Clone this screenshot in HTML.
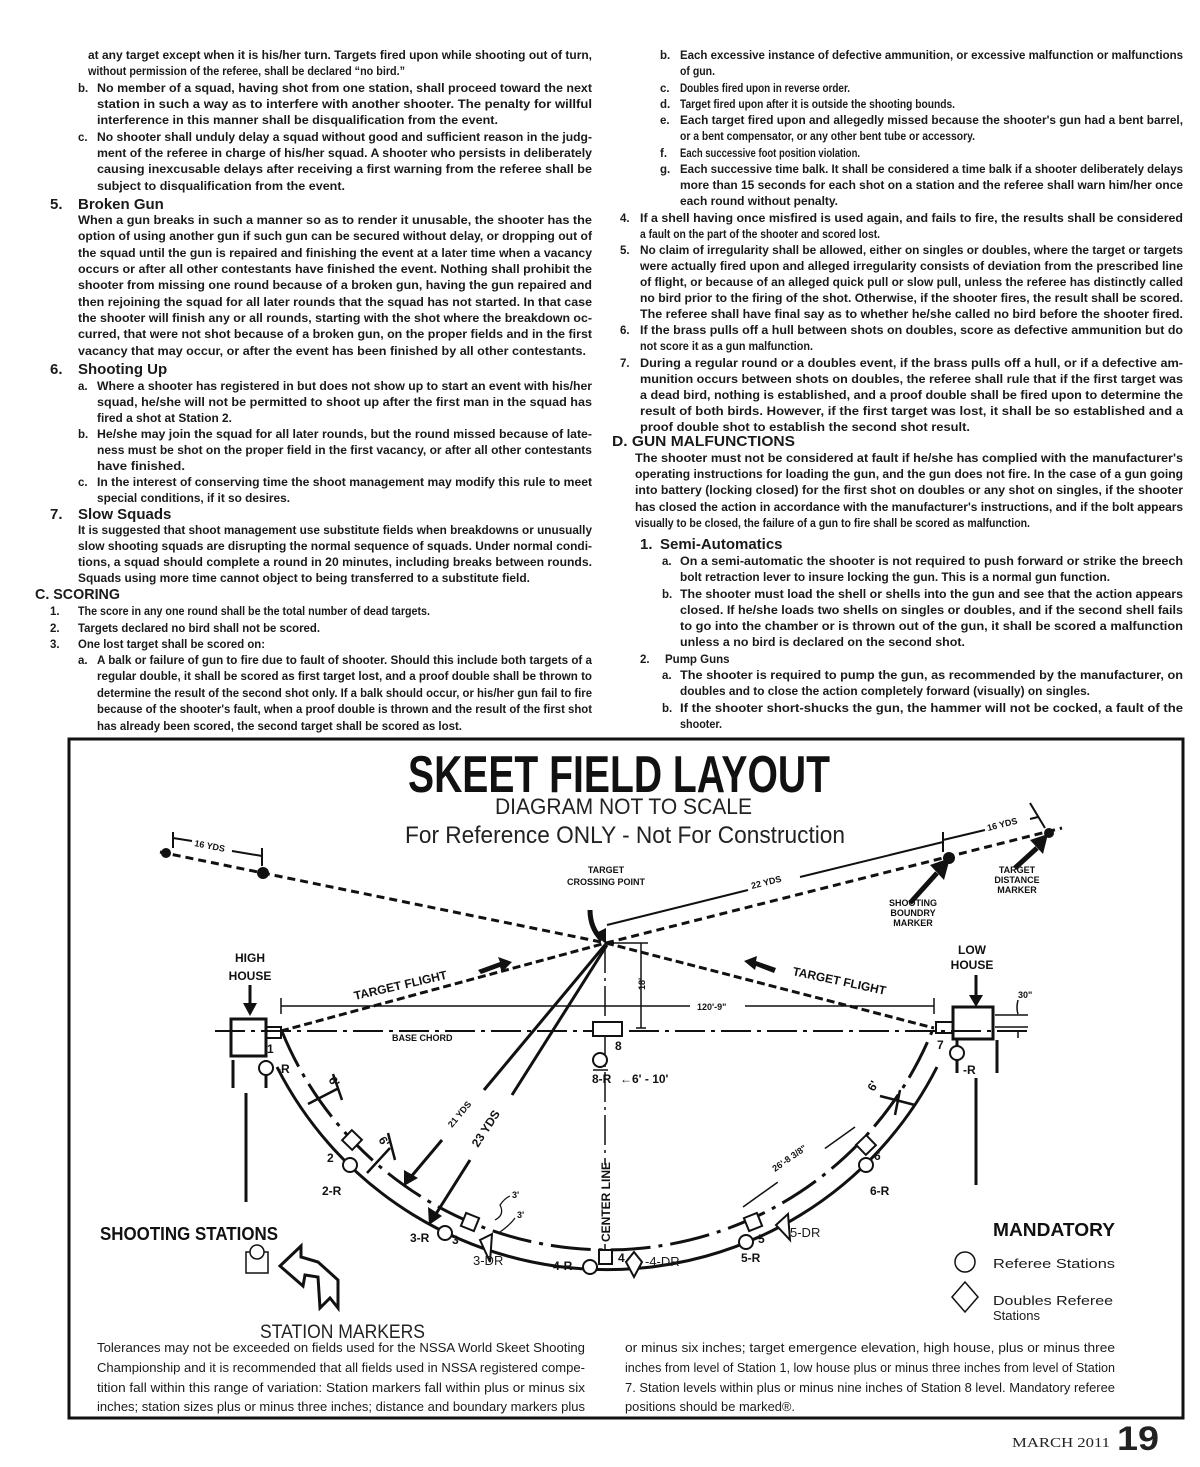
<!DOCTYPE html>
<html><head><meta charset="utf-8"><style>
html,body{margin:0;padding:0;background:#fff;}
svg{display:block}
.t{font-family:"Liberation Sans",sans-serif;font-weight:bold;font-size:11.5px;fill:#1a1a1a}
.h{font-family:"Liberation Sans",sans-serif;font-weight:bold;font-size:15px;fill:#1a1a1a}
.r{font-family:"Liberation Sans",sans-serif;font-size:13px;fill:#1a1a1a}
.s{font-family:"Liberation Sans",sans-serif;font-weight:bold;font-size:9px;fill:#111}
.d{font-family:"Liberation Sans",sans-serif;font-weight:bold;font-size:12px;fill:#111}
.ln{stroke:#111;fill:none}
</style></head><body>
<svg width="1200" height="1467" viewBox="0 0 1200 1467" xmlns="http://www.w3.org/2000/svg">
<rect width="1200" height="1467" fill="#fff"/>
<g class="t">
<text x="88" y="59" textLength="504" lengthAdjust="spacingAndGlyphs">at any target  except when it is his/her turn. Targets fired upon while shooting out of turn,</text>
<text x="88" y="75" textLength="317" lengthAdjust="spacingAndGlyphs">without permission of the referee, shall be declared “no bird.”</text>
<text x="78" y="92">b.</text>
<text x="97" y="92" textLength="495" lengthAdjust="spacingAndGlyphs">No member of a squad, having shot from one station, shall proceed toward the next</text>
<text x="97" y="108" textLength="495" lengthAdjust="spacingAndGlyphs">station in such a way as to interfere with another shooter. The penalty for willful</text>
<text x="97" y="124" textLength="401" lengthAdjust="spacingAndGlyphs">interference in this manner shall be disqualification from the event.</text>
<text x="78" y="141">c.</text>
<text x="97" y="141" textLength="495" lengthAdjust="spacingAndGlyphs">No shooter shall unduly delay a squad without good and sufficient reason in the judg-</text>
<text x="97" y="157" textLength="495" lengthAdjust="spacingAndGlyphs">ment of the referee in charge of his/her squad. A shooter who persists in deliberately</text>
<text x="97" y="173" textLength="495" lengthAdjust="spacingAndGlyphs">causing inexcusable delays after receiving a first warning from the referee shall be</text>
<text x="97" y="190" textLength="248" lengthAdjust="spacingAndGlyphs">subject to disqualification from the event.</text>
<text x="78" y="224" textLength="514" lengthAdjust="spacingAndGlyphs">When a gun breaks in such a manner so as to render it unusable, the shooter has the</text>
<text x="78" y="240" textLength="514" lengthAdjust="spacingAndGlyphs">option of using another gun if such gun can be secured without delay, or dropping out of</text>
<text x="78" y="257" textLength="514" lengthAdjust="spacingAndGlyphs">the squad until the gun is repaired and finishing the event at a later time when a vacancy</text>
<text x="78" y="273" textLength="514" lengthAdjust="spacingAndGlyphs">occurs or after all other contestants have finished the event. Nothing shall prohibit the</text>
<text x="78" y="289" textLength="514" lengthAdjust="spacingAndGlyphs">shooter from missing one round because of a broken gun, having the gun repaired and</text>
<text x="78" y="306" textLength="514" lengthAdjust="spacingAndGlyphs">then rejoining the squad for all later rounds that the squad has not started. In that case</text>
<text x="78" y="322" textLength="514" lengthAdjust="spacingAndGlyphs">the shooter will finish any or all rounds, starting with the shot where the breakdown oc-</text>
<text x="78" y="338" textLength="514" lengthAdjust="spacingAndGlyphs">curred, that were not shot because of a broken gun, on the proper fields and in the first</text>
<text x="78" y="355" textLength="508" lengthAdjust="spacingAndGlyphs">vacancy that  may occur, or after the event has been finished by all other contestants.</text>
<text x="78" y="390">a.</text>
<text x="97" y="390" textLength="495" lengthAdjust="spacingAndGlyphs">Where a shooter has registered in but does not show up to start an event with his/her</text>
<text x="97" y="406" textLength="495" lengthAdjust="spacingAndGlyphs">squad, he/she will not be permitted to shoot up after the first man in the squad has</text>
<text x="97" y="422" textLength="135" lengthAdjust="spacingAndGlyphs">fired a shot at Station 2.</text>
<text x="78" y="438">b.</text>
<text x="97" y="438" textLength="495" lengthAdjust="spacingAndGlyphs">He/she may join the squad for all later rounds, but the round missed because of late-</text>
<text x="97" y="454" textLength="495" lengthAdjust="spacingAndGlyphs">ness must be shot on the proper field in the first vacancy, or after all other contestants</text>
<text x="97" y="470" textLength="88" lengthAdjust="spacingAndGlyphs">have finished.</text>
<text x="78" y="486">c.</text>
<text x="97" y="486" textLength="495" lengthAdjust="spacingAndGlyphs">In the interest of conserving time the shoot management may modify this rule to meet</text>
<text x="97" y="502" textLength="193" lengthAdjust="spacingAndGlyphs">special conditions, if it so desires.</text>
<text x="78" y="534" textLength="514" lengthAdjust="spacingAndGlyphs">It is suggested that shoot management use substitute fields when breakdowns or unusually</text>
<text x="78" y="550" textLength="514" lengthAdjust="spacingAndGlyphs">slow shooting squads are disrupting the normal sequence of squads.  Under normal condi-</text>
<text x="78" y="566" textLength="514" lengthAdjust="spacingAndGlyphs">tions, a squad should complete a round in 20 minutes, including breaks between rounds.</text>
<text x="78" y="582" textLength="452" lengthAdjust="spacingAndGlyphs">Squads using more time cannot object to being transferred to a substitute field.</text>
<text x="50" y="615">1.</text><text x="78" y="615" textLength="352" lengthAdjust="spacingAndGlyphs">The score in any one round shall be the total number of dead targets.</text>
<text x="50" y="632">2.</text><text x="78" y="632" textLength="242" lengthAdjust="spacingAndGlyphs">Targets declared no bird shall not be scored.</text>
<text x="50" y="648">3.</text><text x="78" y="648" textLength="187" lengthAdjust="spacingAndGlyphs">One lost target shall be scored on:</text>
<text x="78" y="664">a.</text>
<text x="97" y="664" textLength="495" lengthAdjust="spacingAndGlyphs">A balk or failure of gun to fire due to fault of shooter.  Should this include both targets of a</text>
<text x="97" y="680" textLength="495" lengthAdjust="spacingAndGlyphs">regular double, it shall be scored as first target lost, and a proof double shall be thrown to</text>
<text x="97" y="697" textLength="495" lengthAdjust="spacingAndGlyphs">determine the result of the second shot only. If a balk should occur, or his/her gun fail to fire</text>
<text x="97" y="713" textLength="495" lengthAdjust="spacingAndGlyphs">because of the shooter's fault, when a proof double is thrown and the result of the first shot</text>
<text x="97" y="730" textLength="365" lengthAdjust="spacingAndGlyphs">has already been scored, the second target shall be scored as lost.</text>

<text x="660" y="59">b.</text>
<text x="680" y="59" textLength="503" lengthAdjust="spacingAndGlyphs">Each excessive instance of defective ammunition, or excessive malfunction or malfunctions</text>
<text x="680" y="75" textLength="35" lengthAdjust="spacingAndGlyphs">of gun.</text>
<text x="660" y="92">c.</text><text x="680" y="92" textLength="170" lengthAdjust="spacingAndGlyphs">Doubles fired upon in reverse order.</text>
<text x="660" y="108">d.</text><text x="680" y="108" textLength="275" lengthAdjust="spacingAndGlyphs">Target fired upon after it is outside the shooting bounds.</text>
<text x="660" y="124">e.</text>
<text x="680" y="124" textLength="503" lengthAdjust="spacingAndGlyphs">Each target fired upon and allegedly missed because the shooter's gun had a bent barrel,</text>
<text x="680" y="140" textLength="295" lengthAdjust="spacingAndGlyphs">or a bent compensator, or any other bent tube or accessory.</text>
<text x="660" y="157">f.</text><text x="680" y="157" textLength="180" lengthAdjust="spacingAndGlyphs">Each successive foot position violation.</text>
<text x="660" y="173">g.</text>
<text x="680" y="173" textLength="503" lengthAdjust="spacingAndGlyphs">Each successive time balk. It shall be considered a time balk if a shooter deliberately delays</text>
<text x="680" y="189" textLength="503" lengthAdjust="spacingAndGlyphs">more than 15 seconds for each shot on a station and the referee shall warn him/her once</text>
<text x="680" y="205" textLength="158" lengthAdjust="spacingAndGlyphs">each round without penalty.</text>
<text x="620" y="222">4.</text>
<text x="640" y="222" textLength="543" lengthAdjust="spacingAndGlyphs">If a shell having once misfired is used again, and fails to fire, the results shall be considered</text>
<text x="640" y="238" textLength="240" lengthAdjust="spacingAndGlyphs">a fault on the part of the shooter and scored lost.</text>
<text x="620" y="254">5.</text>
<text x="640" y="254" textLength="543" lengthAdjust="spacingAndGlyphs">No claim of irregularity shall be allowed, either on singles or doubles, where the target or targets</text>
<text x="640" y="270" textLength="543" lengthAdjust="spacingAndGlyphs">were actually fired upon and alleged irregularity consists of deviation from the prescribed line</text>
<text x="640" y="286" textLength="543" lengthAdjust="spacingAndGlyphs">of flight, or because of an alleged quick pull or slow pull, unless the referee has distinctly called</text>
<text x="640" y="302" textLength="543" lengthAdjust="spacingAndGlyphs">no bird prior to the firing of the shot. Otherwise, if the shooter fires, the result shall be scored.</text>
<text x="640" y="318" textLength="543" lengthAdjust="spacingAndGlyphs">The referee shall have final say as to whether he/she called no bird before the shooter fired.</text>
<text x="620" y="334">6.</text>
<text x="640" y="334" textLength="543" lengthAdjust="spacingAndGlyphs">If the brass pulls off a hull between shots on doubles, score as defective ammunition but do</text>
<text x="640" y="350" textLength="173" lengthAdjust="spacingAndGlyphs">not score it as a gun malfunction.</text>
<text x="620" y="367">7.</text>
<text x="640" y="367" textLength="543" lengthAdjust="spacingAndGlyphs">During a regular round or a doubles event, if the brass pulls off a hull, or if a defective am-</text>
<text x="640" y="383" textLength="543" lengthAdjust="spacingAndGlyphs">munition occurs between shots on doubles, the referee shall rule that if the first target was</text>
<text x="640" y="399" textLength="543" lengthAdjust="spacingAndGlyphs">a dead bird, nothing is established, and a proof double shall be fired upon to determine the</text>
<text x="640" y="415" textLength="543" lengthAdjust="spacingAndGlyphs">result of both birds.  However, if the first target was lost, it shall be so established and a</text>
<text x="640" y="431" textLength="330" lengthAdjust="spacingAndGlyphs">proof double shot to establish the second shot result.</text>
<text x="635" y="462" textLength="548" lengthAdjust="spacingAndGlyphs">The shooter must not be considered at fault if he/she has complied with the manufacturer's</text>
<text x="635" y="478" textLength="548" lengthAdjust="spacingAndGlyphs">operating instructions for loading the gun, and the gun does not fire. In the case of a gun going</text>
<text x="635" y="494" textLength="548" lengthAdjust="spacingAndGlyphs">into battery (locking closed) for the first shot on doubles or any shot on singles, if the shooter</text>
<text x="635" y="511" textLength="548" lengthAdjust="spacingAndGlyphs">has closed the action in accordance with the manufacturer's instructions, and if the bolt appears</text>
<text x="635" y="527" textLength="395" lengthAdjust="spacingAndGlyphs">visually to be closed, the failure of a gun to fire shall be scored as malfunction.</text>
<text x="662" y="565">a.</text>
<text x="680" y="565" textLength="503" lengthAdjust="spacingAndGlyphs">On a semi-automatic the shooter is not required to push forward or strike the breech</text>
<text x="680" y="581" textLength="430" lengthAdjust="spacingAndGlyphs">bolt retraction lever to insure locking the gun. This is a normal gun function.</text>
<text x="662" y="598">b.</text>
<text x="680" y="598" textLength="503" lengthAdjust="spacingAndGlyphs">The shooter must load the shell or shells into the gun and see that the action appears</text>
<text x="680" y="614" textLength="503" lengthAdjust="spacingAndGlyphs">closed.  If he/she loads two shells on singles or doubles, and if the second shell fails</text>
<text x="680" y="630" textLength="503" lengthAdjust="spacingAndGlyphs">to go into the chamber or is thrown out of the gun, it shall be scored a malfunction</text>
<text x="680" y="646" textLength="285" lengthAdjust="spacingAndGlyphs">unless a no bird is declared on the second shot.</text>
<text x="640" y="663">2.</text><text x="665" y="663">Pump Guns</text>
<text x="662" y="679">a.</text>
<text x="680" y="679" textLength="503" lengthAdjust="spacingAndGlyphs">The shooter is required to pump the gun, as recommended by the manufacturer, on</text>
<text x="680" y="695" textLength="410" lengthAdjust="spacingAndGlyphs">doubles and to close the action completely forward (visually) on singles.</text>
<text x="662" y="712">b.</text>
<text x="680" y="712" textLength="503" lengthAdjust="spacingAndGlyphs">If the shooter short-shucks the gun, the hammer will not be cocked, a fault of the</text>
<text x="680" y="728" textLength="42" lengthAdjust="spacingAndGlyphs">shooter.</text>
</g>
<g class="h">
<text x="50" y="209">5.</text><text x="78" y="209">Broken Gun</text>
<text x="50" y="374">6.</text><text x="78" y="374">Shooting Up</text>
<text x="50" y="519">7.</text><text x="78" y="519">Slow Squads</text>
<text x="35" y="599" textLength="85" lengthAdjust="spacingAndGlyphs">C. SCORING</text>
<text x="612" y="446" textLength="183" lengthAdjust="spacingAndGlyphs">D. GUN MALFUNCTIONS</text>
<text x="640" y="549">1.</text><text x="660" y="549">Semi-Automatics</text>
</g>

<!-- diagram box -->
<rect x="69" y="739" width="1114" height="679" fill="none" stroke="#111" stroke-width="3"/>
<text x="408" y="792" font-family="Liberation Sans" font-weight="bold" font-size="52" textLength="422" lengthAdjust="spacingAndGlyphs" fill="#111">SKEET FIELD LAYOUT</text>
<text x="495" y="814" font-family="Liberation Sans" font-size="22" textLength="257" lengthAdjust="spacingAndGlyphs" fill="#222">DIAGRAM NOT TO SCALE</text>
<text x="405" y="843" font-family="Liberation Sans" font-size="24" textLength="440" lengthAdjust="spacingAndGlyphs" fill="#222">For Reference ONLY - Not For Construction</text>

<!-- distance lines -->
<g class="ln" stroke-width="3">
<path d="M160,852 L606,943" stroke-dasharray="8 5"/>
<path d="M606,943 L1062,828" stroke-dasharray="8 5"/>
<path d="M281,1031 L606,943" stroke-dasharray="8 4"/>
<path d="M606,943 L934,1028" stroke-dasharray="8 4"/>
</g>
<circle cx="166" cy="853" r="5" fill="#111"/><circle cx="263" cy="873" r="6" fill="#111"/>
<circle cx="949" cy="858" r="6" fill="#111"/><circle cx="1049" cy="833" r="5" fill="#111"/>
<g class="ln" stroke-width="2">
<path d="M173,832 V848 M173,838 L192,841 M232,851 L262,856 M262,848 V866"/>
<path d="M607,925 L748,890 M800,877 L943,842 M943,832 V852"/>
<path d="M943,840 L985,830 M1030,819 L1038,817 M1030,803 L1045,828"/>
</g>
<text x="194" y="846" class="s" transform="rotate(11 194 846)">16 YDS</text>
<text x="752" y="889" class="s" transform="rotate(-14 752 889)">22 YDS</text>
<text x="988" y="831" class="s" transform="rotate(-14 988 831)">16 YDS</text>
<!-- marker arrows -->
<g stroke="#111" stroke-width="5" fill="none"><path d="M910,903 L937,873"/><path d="M1015,868 L1037,848"/></g>
<path d="M930,865 L950,858 L944,880 Z" fill="#111"/><path d="M1030,840 L1048,834 L1043,854 Z" fill="#111"/>
<g class="s" text-anchor="middle">
<text x="913" y="906">SHOOTING</text><text x="913" y="916">BOUNDRY</text><text x="913" y="926">MARKER</text>
<text x="1017" y="873">TARGET</text><text x="1017" y="883">DISTANCE</text><text x="1017" y="893">MARKER</text>
<text x="606" y="873">TARGET</text><text x="606" y="885">CROSSING POINT</text>
</g>
<path d="M590,910 Q590,928 602,940" stroke="#111" stroke-width="5" fill="none"/>
<path d="M594,934 L606,944 L606,928 Z" fill="#111"/>

<!-- center line and dims -->
<g class="ln" stroke-width="1.5">
<path d="M605,943 V1265" stroke-dasharray="30 5 3 5"/>
<path d="M606,943 H648 M641,943 V1028 M636,1028 H646"/>
<path d="M281,1006 H690 M745,1006 H934 M934,998 V1014 M281,998 V1014"/>
</g>
<text x="645" y="990" class="s" transform="rotate(-90 645 990)">18'</text>
<text x="697" y="1010" class="s">120'-9"</text>
<path d="M215,1031 H1030" stroke="#111" stroke-width="2" fill="none" stroke-dasharray="30 6 4 6"/>
<text x="392" y="1041" class="s">BASE CHORD</text>

<!-- houses -->
<rect x="231" y="1019" width="35" height="37" fill="none" stroke="#111" stroke-width="3"/>
<rect x="266" y="1027" width="15" height="11" fill="none" stroke="#111" stroke-width="2"/>
<rect x="953" y="1007" width="40" height="32" fill="none" stroke="#111" stroke-width="3"/>
<rect x="936" y="1022" width="17" height="11" fill="none" stroke="#111" stroke-width="2"/>
<g class="ln" stroke-width="3">
<path d="M233,1060 V1088 M266,1060 V1088 M246,1093 V1202"/>
<path d="M957,1040 V1073 M997,1040 V1073 M976,1078 V1185"/>
<path d="M250,985 V1005"/><path d="M976,975 V998"/>
</g>
<path d="M243,1003 H257 L250,1016 Z" fill="#111"/><path d="M969,995 H983 L976,1007 Z" fill="#111"/>
<g class="ln" stroke-width="1.5"><path d="M995,1015 H1028 M995,1027 H1028 M1018,1000 Q1016,1008 1018,1014 M1018,1038 L1018,1030"/></g>
<text x="1018" y="998" class="s">30"</text>
<text x="250" y="962" class="d" font-size="14" text-anchor="middle">HIGH</text>
<text x="250" y="980" class="d" font-size="14" text-anchor="middle">HOUSE</text>
<text x="972" y="954" class="d" font-size="13" text-anchor="middle">LOW</text>
<text x="972" y="969" class="d" font-size="13" text-anchor="middle">HOUSE</text>
<!-- target flight -->
<text x="355" y="1000" class="d" font-size="13" transform="rotate(-13 355 1000)">TARGET FLIGHT</text>
<path d="M478,970 L500,962 L498,957 L512,962 L502,972 L500,967 L481,974 Z" fill="#111"/>
<text x="792" y="975" class="d" font-size="13" transform="rotate(12 792 975)">TARGET FLIGHT</text>
<path d="M776,968 L756,961 L757,956 L744,961 L755,970 L756,966 L774,973 Z" fill="#111"/>

<!-- arcs -->
<path d="M281.6,1030.5 A351,351 0 0 0 932.4,1030.5" class="ln" stroke-width="3" stroke-dasharray="40 8 4 8"/>
<path d="M277,1067 A370,370 0 0 0 937,1067" class="ln" stroke-width="3"/>
<!-- yardage lines -->
<g class="ln" stroke-width="3">
<path d="M605,945 L484,1090 M442,1140 L410,1178"/>
<path d="M607,945 L512,1095 M470,1160 L434,1217"/>
</g>
<path d="M404,1186 L404,1170 L418,1178 Z" fill="#111"/><path d="M429,1225 L428,1207 L442,1216 Z" fill="#111"/>
<text x="452" y="1128" class="s" transform="rotate(-50 452 1128)">21 YDS</text>
<text x="478" y="1148" class="d" font-size="13" transform="rotate(-57 478 1148)">23 YDS</text>
<!-- 6' dims -->
<g class="ln" stroke-width="2.5">
<path d="M308,1104 L337,1089 M333,1074 L342,1100"/>
<path d="M367,1173 L390,1148 M388,1133 L395,1160"/>
<path d="M880,1096 L915,1105 M900,1090 L895,1115"/>
<path d="M743,1207 L855,1127" stroke-width="1.5"/>
</g>
<text x="328" y="1080" class="d" transform="rotate(55 328 1080)">6'</text>
<text x="378" y="1140" class="d" transform="rotate(55 378 1140)">6'</text>
<text x="874" y="1092" class="d" transform="rotate(-60 874 1092)">6'</text>
<rect x="770" y="1155" width="58" height="14" fill="#fff" transform="rotate(-35 799 1162)"/>
<text x="775" y="1172" class="s" transform="rotate(-35 775 1172)">26'-8 3/8"</text>
<!-- stations -->
<g fill="#fff" stroke="#111" stroke-width="2">
<rect x="-7" y="-7" width="14" height="14" transform="translate(352,1140) rotate(44)"/>
<rect x="-7" y="-7" width="14" height="14" transform="translate(470,1222) rotate(22)"/>
<rect x="-7" y="-7" width="14" height="14" transform="translate(753,1222) rotate(-22)"/>
<rect x="-7" y="-7" width="14" height="14" transform="translate(866,1145) rotate(-44)"/>
<rect x="599" y="1250" width="13" height="14"/>
<rect x="593" y="1022" width="29" height="14"/>
<circle cx="266" cy="1068" r="7"/><circle cx="350" cy="1165" r="7"/><circle cx="445" cy="1233" r="7"/>
<circle cx="590" cy="1267" r="7"/><circle cx="746" cy="1242" r="7"/><circle cx="866" cy="1165" r="7"/>
<circle cx="957" cy="1053" r="7"/><circle cx="600" cy="1060" r="7"/>
<path d="M480,1240 L492,1234 L490,1262 Z"/><path d="M634,1252 L642,1262 L634,1277 L626,1262 Z"/>
<path d="M776,1225 L788,1214 L790,1240 Z"/>
</g>
<path d="M593,1070 H608" stroke="#111" stroke-width="1.5"/>
<g class="ln" stroke-width="1.2"><path d="M495,1220 Q505,1215 500,1205 Q505,1198 510,1196 M500,1232 Q510,1225 515,1218"/></g>
<text x="512" y="1198" class="s" font-size="8">3'</text><text x="517" y="1218" class="s" font-size="8">3'</text>
<rect x="596" y="1165" width="16" height="75" fill="#fff"/>
<text x="610" y="1242" class="d" font-size="12" transform="rotate(-90 610 1242)">CENTER LINE</text>
<g class="d">
<text x="267" y="1053">1</text><text x="277" y="1073">-R</text>
<text x="327" y="1162">2</text><text x="322" y="1195">2-R</text>
<text x="410" y="1242">3-R</text><text x="452" y="1244">3</text>
<text x="618" y="1262">4</text><text x="553" y="1270">4-R</text>
<text x="758" y="1243">5</text><text x="741" y="1262">5-R</text>
<text x="874" y="1160">6</text><text x="870" y="1195">6-R</text>
<text x="937" y="1049">7</text><text x="963" y="1074">-R</text>
<text x="615" y="1050">8</text><text x="592" y="1083">8-R</text>
<text x="620" y="1083">←6' - 10'</text>
</g>
<g class="r" font-size="11"><text x="473" y="1265">3-DR</text><text x="645" y="1266">-4-DR</text><text x="790" y="1237">5-DR</text></g>

<!-- legend -->
<text x="100" y="1240" font-family="Liberation Sans" font-weight="bold" font-size="18" textLength="178" lengthAdjust="spacingAndGlyphs" fill="#111">SHOOTING STATIONS</text>
<rect x="246" y="1252" width="22" height="21" fill="#fff" stroke="#111" stroke-width="1.5"/>
<circle cx="257" cy="1252" r="7" fill="#fff" stroke="#111" stroke-width="1.5"/>
<path d="M280,1266 L301,1246 L301,1257 L318,1262 L338,1280 L338,1308 L330,1298 L320,1308 L318,1277 L305,1275 L303,1286 Z" fill="#fff" stroke="#111" stroke-width="3"/>
<text x="260" y="1338" font-family="Liberation Sans" font-size="19" textLength="165" lengthAdjust="spacingAndGlyphs" fill="#222">STATION MARKERS</text>
<text x="993" y="1236" font-family="Liberation Sans" font-weight="bold" font-size="18" textLength="122" lengthAdjust="spacingAndGlyphs" fill="#111">MANDATORY</text>
<circle cx="965" cy="1262" r="10" fill="#fff" stroke="#111" stroke-width="1.5"/>
<text x="993" y="1268" class="r" font-size="15" textLength="122" lengthAdjust="spacingAndGlyphs">Referee Stations</text>
<path d="M965,1282 L978,1297 L965,1312 L952,1297 Z" fill="#fff" stroke="#111" stroke-width="1.5"/>
<text x="993" y="1305" class="r" font-size="15" textLength="120" lengthAdjust="spacingAndGlyphs">Doubles Referee</text>
<text x="993" y="1320" class="r" font-size="15">Stations</text>
<g class="r">
<text x="97" y="1352" textLength="488" lengthAdjust="spacingAndGlyphs">Tolerances may not be exceeded on fields used for the NSSA World Skeet Shooting</text>
<text x="97" y="1372" textLength="488" lengthAdjust="spacingAndGlyphs">Championship and it is recommended that all fields used in NSSA registered compe-</text>
<text x="97" y="1392" textLength="488" lengthAdjust="spacingAndGlyphs">tition fall within this range of variation:  Station markers fall within plus or minus six</text>
<text x="97" y="1411" textLength="488" lengthAdjust="spacingAndGlyphs">inches; station sizes plus or minus three inches; distance and boundary markers plus</text>
<text x="625" y="1352" textLength="490" lengthAdjust="spacingAndGlyphs">or minus six inches; target emergence elevation, high house, plus or minus three</text>
<text x="625" y="1372" textLength="490" lengthAdjust="spacingAndGlyphs">inches from level of Station 1, low house plus or minus three inches from level of Station</text>
<text x="625" y="1392" textLength="490" lengthAdjust="spacingAndGlyphs">7.  Station levels within plus or minus nine inches of Station 8 level.  Mandatory referee</text>
<text x="625" y="1411" textLength="170" lengthAdjust="spacingAndGlyphs">positions should be marked®.</text>
</g>
<text x="1012" y="1447" font-family="Liberation Serif" font-size="14" textLength="98" lengthAdjust="spacingAndGlyphs" fill="#222">MARCH 2011</text>
<text x="1117" y="1450" font-family="Liberation Sans" font-weight="bold" font-size="34" textLength="42" lengthAdjust="spacingAndGlyphs" fill="#222">19</text>
</svg>
</body></html>
